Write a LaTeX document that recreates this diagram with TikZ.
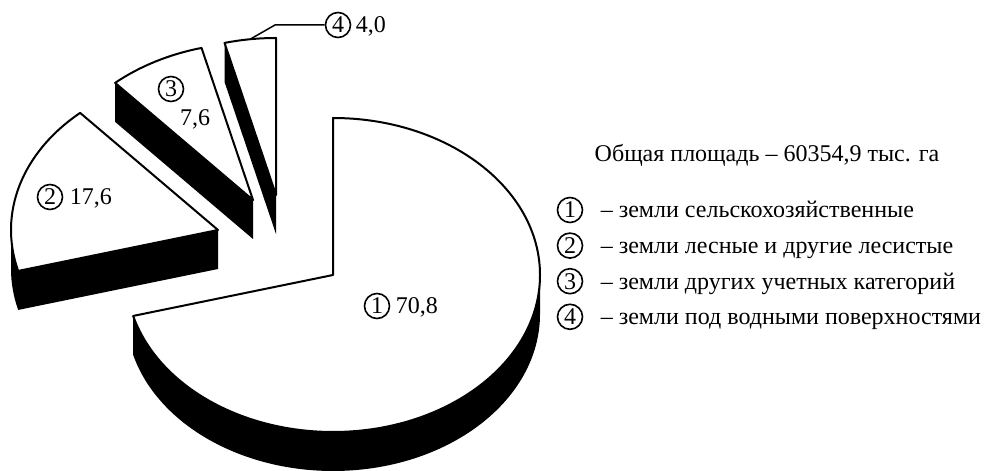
\documentclass[tikz,border=0pt]{standalone}
\usepackage{fontspec}
\setmainfont{Liberation Serif}
\usetikzlibrary{positioning}

\begin{document}
\begin{tikzpicture}[x=1pt,y=1pt,font=\fontsize{24}{28}\selectfont,
  top/.style = {draw,fill=white,line width=2pt,line join=round},
  side/.style = {fill=black},
  num/.style = {draw,circle,inner sep=0pt,minimum size=25pt,line width=1.6pt},
  ell/.style = {x radius=207,y radius=157}]
\useasboundingbox (0,0) rectangle (986,471);

% slice 4
\begin{scope}[shift={(276,276)}]
\fill[side] (0,0) -- (104.4:207 and 157) -- ++(0,-39) -- (0,-39) -- cycle;
\draw[top] (0,0) -- (90:207 and 157) arc[start angle=90,end angle=104.4,ell] -- cycle;
\coordinate (e4) at (97.2:207 and 157);
\end{scope}

% slice 3
\begin{scope}[shift={(253,271)}]
\fill[side] (0,0) -- (131.76:207 and 157) -- ++(0,-39) -- (0,-39) -- cycle;
\draw[top] (0,0) -- (104.4:207 and 157) arc[start angle=104.4,end angle=131.76,ell] -- cycle;
\end{scope}

% slice 2
\begin{scope}[shift={(218,241)}]
\fill[side] (0,0) -- (0,-39) -- ++(195.12:207 and 157) arc[start angle=195.12,end angle=180,ell]
  -- (180:207 and 157) arc[start angle=180,end angle=195.12,ell] -- cycle;
\draw[top] (0,0) -- (131.76:207 and 157) arc[start angle=131.76,end angle=195.12,ell] -- cycle;
\end{scope}

% slice 1
\begin{scope}[shift={(333,196)}]
\fill[side] (0:207 and 157) -- ++(0,-39) arc[start angle=0,end angle=-164.88,ell]
  -- ++(0,39) arc[start angle=-164.88,end angle=0,ell] -- cycle;
\draw[top] (0,0) -- (90:207 and 157) arc[start angle=90,end angle=-164.88,ell] -- cycle;
\end{scope}

% values
\node[num] (n1) at (377,165) {1};
\node (v1) [base right=2pt of n1] {70,8};
\node[num] (n2) at (50,274) {2};
\node (v2) [base right=3pt of n2] {17,6};
\node[num] (n3) at (171,382) {3};
\node (v3) at (195,352) {7,6};
\node[num] (n4) at (338,446) {4};
\node (v4) [base right=1pt of n4] {4,0};
\coordinate (k4) at (275,446);
\draw[line width=1.5pt] (e4) -- (k4) -- (n4);

% legend
\node (t) at (767,316) {Общая площадь – 60354,9 тыс. га};
\node[num] (l1) at (570,261) {1};
\node[num] (l2) [below=9pt of l1] {2};
\node[num] (l3) [below=9pt of l2] {3};
\node[num] (l4) [below=9pt of l3] {4};
\node [base right=14pt of l1] {– земли сельскохозяйственные};
\node [base right=14pt of l2] {– земли лесные и другие лесистые};
\node [base right=14pt of l3] {– земли других учетных категорий};
\node [base right=14pt of l4] {– земли под водными поверхностями};
\end{tikzpicture}
\end{document}
